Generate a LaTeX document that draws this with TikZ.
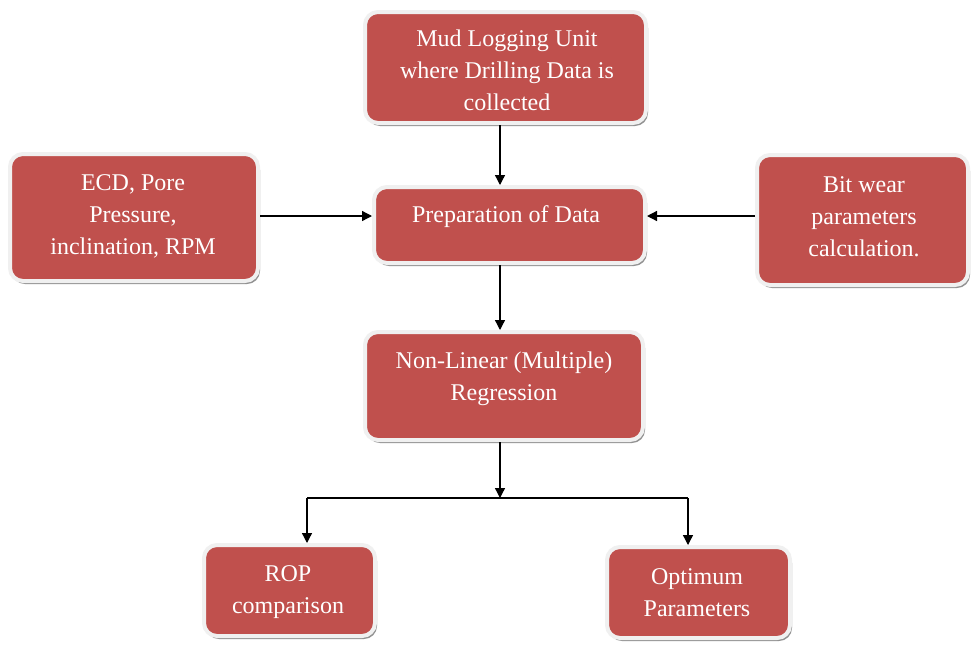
\documentclass[tikz,border=0pt]{standalone}
\usepackage{fontspec}
\setmainfont{LiberationSerif}[Extension=.ttf, UprightFont=*-Regular, BoldFont=*-Bold]
\usetikzlibrary{arrows.meta,shadows}
\definecolor{boxred}{HTML}{C0504D}
\definecolor{boxrim}{HTML}{F0F0F0}
\begin{document}
\begin{tikzpicture}[x=1pt,y=-1pt,
  box/.style={rectangle, rounded corners=13pt, fill=boxred, draw=boxrim, line width=4pt,
    inner sep=0pt,
    drop shadow={shadow xshift=2pt, shadow yshift=-3pt, fill=black!65, opacity=.65}},
  lbl/.style={align=center, text=white, inner sep=0pt, font=\fontsize{24}{32}\selectfont},
  arr/.style={line width=1.3pt, -{Triangle[length=10pt,width=10pt]}},
  conn/.style={line width=1.3pt}]
\useasboundingbox (0,0) rectangle (971,646);
\fill[white] (0,0) rectangle (971,646);

% boxes
\node[box, minimum width=281pt, minimum height=111pt] (mud) at (505.5,67.5) {};
\node[box, minimum width=248pt, minimum height=127pt] (ecd) at (134,217.5) {};
\node[box, minimum width=211pt, minimum height=130pt] (bit) at (862.5,220) {};
\node[box, minimum width=271pt, minimum height=76pt] (prep) at (509.5,225) {};
\node[box, minimum width=278pt, minimum height=108pt] (nl) at (504,386) {};
\node[box, minimum width=171pt, minimum height=91pt] (rop) at (289.5,590.5) {};
\node[box, minimum width=183pt, minimum height=91pt] (opt) at (698.5,592.5) {};

% texts
\node[lbl] (mudt) at (507,70) {Mud Logging Unit\\where Drilling Data is\\collected};
\node[lbl] (ecdt) at (133,216) {ECD, Pore\\Pressure,\\inclination, RPM};
\node[lbl] (bitt) at (864,217) {Bit wear\\parameters\\calculation.};
\node[lbl] (prept) at (506,217) {Preparation of Data};
\node[lbl] (nlt) at (504,379) {Non-Linear (Multiple)\\Regression};
\node[lbl] (ropt) at (288,592) {ROP\\comparison};
\node[lbl] (optt) at (697,592.5) {Optimum\\Parameters};

% helper coordinates
\coordinate (spine) at (500,0);
\coordinate (row) at (0,216);
\coordinate (junc) at (500,498);
\coordinate (jl) at (307,498);
\coordinate (jr) at (688,498);

% connectors
\draw[arr] (mud.south -| spine) -- (prep.north -| spine);
\draw[arr] (ecd.east |- row) -- (prep.west |- row);
\draw[arr] (bit.west |- row) -- (prep.east |- row);
\draw[arr] (prep.south -| spine) -- (nl.north -| spine);
\draw[arr] (nl.south -| spine) -- (junc);
\draw[conn] (jl) -- (jr);
\draw[arr] (jl) -- (jl |- rop.north);
\draw[arr] (jr) -- (jr |- opt.north);
\end{tikzpicture}
\end{document}
